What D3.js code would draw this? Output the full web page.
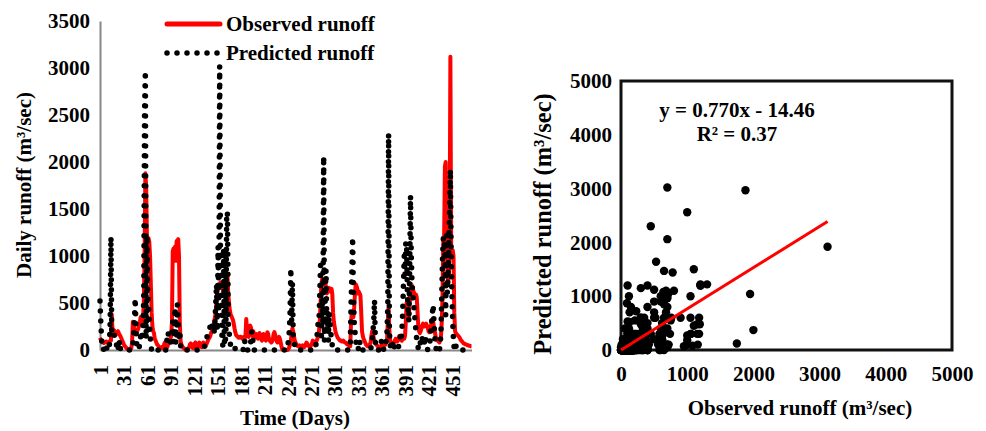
<!DOCTYPE html>
<html lang="en">
  <head>
    <meta charset="utf-8">
    <title>Observed vs predicted runoff</title>
    <script src="https://d3js.org/d3.v7.min.js"></script>
    <style>
      body { margin: 0; background: #fff; }
      text { font-family: "Liberation Serif", "Times New Roman", serif; font-weight: bold; fill: #000; }
    </style>
  </head>
  <body>
    <script>

    // Daily observed runoff (m3/sec), day 1 .. 476
    var observed = [
      130,110,90,80,80,75,80,85,90,80,
      80,85,90,95,100,380,220,200,210,190,
      180,170,190,200,180,160,150,130,110,90,
      70,50,40,30,20,10,5,5,5,10,
      20,80,300,250,220,210,200,190,210,230,
      260,300,350,330,300,330,500,1000,1880,1750,
      1200,1180,1190,1150,1000,700,400,250,200,180,
      120,100,80,60,50,40,30,20,20,30,
      20,30,60,80,60,40,30,60,80,100,
      120,150,300,1050,1080,1000,1100,950,1160,1150,
      1180,1000,300,100,60,40,30,20,10,5,
      5,5,10,20,30,60,70,60,30,20,
      30,70,80,70,40,30,60,80,70,40,
      30,50,80,70,50,40,60,80,100,120,
      130,150,180,200,220,250,300,350,400,500,
      600,680,700,700,720,700,680,650,640,620,
      600,620,650,780,600,500,420,380,360,340,
      320,280,230,190,160,150,140,130,130,140,
      140,130,120,130,140,120,150,330,200,150,
      140,200,260,240,180,150,200,160,130,150,
      170,140,120,160,180,150,120,100,130,170,
      150,120,100,130,190,170,120,100,90,80,
      90,120,170,190,160,120,90,80,110,140,
      120,80,40,10,0,0,0,0,0,0,
      0,10,30,60,90,180,230,200,150,100,
      80,60,50,40,40,50,40,30,40,50,
      40,30,40,60,80,70,50,40,30,40,
      50,70,100,90,60,50,80,100,120,150,
      200,300,500,700,750,740,700,720,760,650,
      600,620,650,660,640,620,650,600,400,300,
      250,200,170,150,130,120,110,100,100,90,
      90,100,90,80,80,70,60,60,50,40,
      40,300,400,400,350,450,600,700,680,650,
      600,620,600,580,400,200,150,120,100,80,
      60,50,40,40,50,60,80,150,200,180,
      120,100,80,60,50,40,40,30,30,40,
      50,60,80,60,50,60,80,100,300,450,
      200,100,80,70,60,70,80,100,120,100,
      90,100,120,150,140,110,100,120,130,120,
      150,300,500,520,400,350,600,530,700,680,
      650,620,600,580,590,560,400,250,200,180,
      200,230,260,280,270,250,270,280,260,240,
      200,190,200,250,300,330,300,250,200,150,
      120,100,100,90,80,100,150,300,600,1200,
      1200,1950,2000,1300,900,700,800,1100,3120,1050,
      1050,1060,1000,400,200,180,170,160,150,140,
      130,110,100,90,80,70,70,60,60,55,
      50,50,45,45,40,40
    ];

    // Daily predicted runoff (m3/sec), day 1 .. 476
    var predicted = [
      520,300,120,20,0,10,40,0,0,30,
      0,0,50,300,1200,180,150,160,170,120,
      100,60,0,40,0,100,20,0,0,0,
      0,0,0,0,0,0,0,0,0,0,
      0,0,50,150,300,550,200,60,20,0,
      20,80,150,200,100,250,600,2560,2970,120,
      1220,600,480,300,180,50,0,20,0,0,
      0,0,0,0,0,0,0,0,0,0,
      0,0,0,20,0,50,150,190,120,80,
      80,100,150,300,80,270,450,70,100,480,
      300,100,200,50,0,0,0,0,0,0,
      0,0,0,0,0,0,0,0,0,0,
      0,0,0,0,0,0,0,0,0,0,
      0,0,0,20,50,80,100,150,180,200,
      220,260,300,250,200,280,200,300,500,700,
      200,1100,400,3020,1060,960,100,50,1080,100,
      50,200,1470,1440,300,200,100,50,20,0,
      0,0,0,20,0,0,0,0,0,0,
      0,0,0,0,50,100,30,0,0,0,
      0,0,50,100,200,150,50,0,0,0,
      0,0,0,0,0,0,0,0,0,0,
      0,0,0,0,0,0,0,0,0,0,
      0,0,0,0,0,0,0,0,0,0,
      0,0,0,0,0,0,0,0,0,0,
      50,100,200,400,870,300,720,150,100,50,
      20,0,0,0,0,0,0,0,0,0,
      0,0,0,0,0,0,0,0,0,0,
      0,0,0,0,0,0,50,100,200,300,
      300,600,900,100,550,300,2060,100,600,850,
      200,400,100,400,300,200,100,50,0,0,
      0,0,0,0,0,0,0,0,0,0,
      0,0,0,0,0,0,0,0,0,0,
      50,500,800,1200,600,300,200,100,50,0,
      0,50,100,0,0,0,0,0,0,0,
      0,0,0,0,0,0,0,50,100,200,
      300,530,100,0,0,0,0,0,0,50,
      100,50,20,0,0,50,100,200,500,2300,
      200,50,30,0,50,100,50,0,0,0,
      0,0,50,100,150,100,200,400,700,1000,
      800,1150,1120,600,400,300,900,1640,1000,700,
      600,500,400,300,200,100,50,20,0,50,
      100,150,120,80,50,100,150,80,50,0,
      20,50,100,200,300,400,480,300,150,50,
      0,0,0,30,0,50,200,600,1000,1200,
      1200,1040,370,1220,600,800,1100,1500,1920,1000,
      600,300,100,0,0,50,0,0,0,0,
      0,0,0,0,0,0,0,0,0,0,
      0,0,0,0,0,0
    ];

    // Tick labels
    var dayTicks = [1, 31, 61, 91, 121, 151, 181, 211, 241, 271, 301, 331, 361, 391, 421, 451];
    var runoffTicks = [0, 500, 1000, 1500, 2000, 2500, 3000, 3500];
    var scatterTicks = [0, 1000, 2000, 3000, 4000, 5000];

    // Linear trendline of predicted vs observed
    var slope = 0.770;
    var intercept = -14.46;
    var equationText = "y = 0.770x - 14.46";
    var r2Text = "R² = 0.37";

    var plain = d3.format("d");

    var svg = d3.select("body")
                .append("svg")
                  .attr("width", 986)
                  .attr("height", 431);

    // ---------- Left panel: time series ----------
    var xDay = d3.scaleLinear()
                  .domain([1, observed.length])
                  .range([100, 471.5]);

    var yRun = d3.scaleLinear()
                  .domain([0, 3500])
                  .range([350, 21]);

    // y axis
    svg.append("g")
        .attr("transform", "translate(100,0)")
        .call(d3.axisLeft(yRun).tickValues(runoffTicks).tickFormat(plain)
                .tickSize(0).tickSizeOuter(0).tickPadding(10))
        .call(function(g) {
          g.select(".domain").attr("stroke", "#888").attr("stroke-width", 2);
          g.selectAll("text").style("font-size", "21px");
        });

    // x axis with rotated labels
    svg.append("g")
        .attr("transform", "translate(0,350)")
        .call(d3.axisBottom(xDay).tickValues(dayTicks).tickFormat(plain)
                .tickSize(0).tickSizeOuter(0))
        .call(function(g) {
          g.select(".domain").attr("stroke", "#888").attr("stroke-width", 2);
          g.selectAll("text")
            .attr("transform", "rotate(-90)")
            .attr("x", -15)
            .attr("y", 0)
            .attr("dy", "0.35em")
            .attr("text-anchor", "end")
            .style("font-size", "21px");
        });

    var line = function(values) {
      return d3.line()
                .x(function(d, i) { return xDay(i + 1); })
                .y(function(d) { return yRun(d); })(values);
    };

    // observed: red line
    svg.append("path")
        .attr("d", line(observed))
        .attr("fill", "none")
        .attr("stroke", "#ff0000")
        .attr("stroke-width", 4)
        .attr("stroke-linejoin", "round");

    // predicted: round-dot black line
    svg.append("path")
        .attr("d", line(predicted))
        .attr("fill", "none")
        .attr("stroke", "#000")
        .attr("stroke-width", 5.5)
        .attr("stroke-linecap", "round")
        .attr("stroke-dasharray", "0,10");

    // legend
    svg.append("line")
        .attr("x1", 167).attr("x2", 220)
        .attr("y1", 24).attr("y2", 24)
        .attr("stroke", "#ff0000")
        .attr("stroke-width", 5)
        .attr("stroke-linecap", "round");
    svg.append("line")
        .attr("x1", 167).attr("x2", 217.5)
        .attr("y1", 53).attr("y2", 53)
        .attr("stroke", "#000")
        .attr("stroke-width", 5.5)
        .attr("stroke-linecap", "round")
        .attr("stroke-dasharray", "0,10");
    svg.append("text")
        .attr("x", 226).attr("y", 24)
        .attr("dominant-baseline", "central")
        .style("font-size", "21px")
        .text("Observed runoff");
    svg.append("text")
        .attr("x", 226).attr("y", 53)
        .attr("dominant-baseline", "central")
        .style("font-size", "21px")
        .text("Predicted runoff");

    // axis titles
    svg.append("text")
        .attr("transform", "translate(24,185) rotate(-90)")
        .attr("text-anchor", "middle")
        .attr("dominant-baseline", "central")
        .style("font-size", "21px")
        .text("Daily runoff (m³/sec)");
    svg.append("text")
        .attr("x", 295).attr("y", 418)
        .attr("text-anchor", "middle")
        .attr("dominant-baseline", "central")
        .style("font-size", "21px")
        .text("Time (Days)");

    // ---------- Right panel: scatter ----------
    var xObs = d3.scaleLinear()
                  .domain([0, 5000])
                  .range([621, 952]);

    var yPred = d3.scaleLinear()
                  .domain([0, 5000])
                  .range([350, 81]);

    svg.append("g")
        .attr("transform", "translate(621,0)")
        .call(d3.axisLeft(yPred).tickValues(scatterTicks).tickFormat(plain)
                .tickSize(0).tickSizeOuter(0).tickPadding(9))
        .call(function(g) {
          g.select(".domain").remove();
          g.selectAll("text").style("font-size", "21px");
        });

    svg.append("g")
        .attr("transform", "translate(0,350)")
        .call(d3.axisBottom(xObs).tickValues(scatterTicks).tickFormat(plain)
                .tickSize(0).tickSizeOuter(0).tickPadding(16))
        .call(function(g) {
          g.select(".domain").remove();
          g.selectAll("text").style("font-size", "21px");
        });

    // plot frame
    svg.append("rect")
        .attr("x", xObs(0)).attr("y", yPred(5000))
        .attr("width", xObs(5000) - xObs(0))
        .attr("height", yPred(0) - yPred(5000))
        .attr("fill", "none")
        .attr("stroke", "#111")
        .attr("stroke-width", 3);

    // points
    var pairs = observed.map(function(d, i) { return {obs: d, pred: predicted[i]}; });
    svg.append("g")
        .selectAll("circle")
        .data(pairs)
        .enter()
        .append("circle")
          .attr("cx", function(d) { return xObs(d.obs); })
          .attr("cy", function(d) { return yPred(d.pred); })
          .attr("r", 4.2)
          .attr("fill", "#000");

    // trendline
    var maxObs = d3.max(observed);
    svg.append("line")
        .attr("x1", xObs(0)).attr("y1", yPred(Math.max(0, intercept)))
        .attr("x2", xObs(maxObs)).attr("y2", yPred(slope * maxObs + intercept))
        .attr("stroke", "#ff0000")
        .attr("stroke-width", 3);

    // equation
    svg.append("text")
        .attr("x", 737).attr("y", 110)
        .attr("text-anchor", "middle")
        .attr("dominant-baseline", "central")
        .style("font-size", "21px")
        .text(equationText);
    svg.append("text")
        .attr("x", 737).attr("y", 134)
        .attr("text-anchor", "middle")
        .attr("dominant-baseline", "central")
        .style("font-size", "21px")
        .text(r2Text);

    // axis titles
    svg.append("text")
        .attr("transform", "translate(542,224) rotate(-90)")
        .attr("text-anchor", "middle")
        .attr("dominant-baseline", "central")
        .style("font-size", "24.5px")
        .text("Predicted runoff (m³/sec)");
    svg.append("text")
        .attr("x", 800).attr("y", 408)
        .attr("text-anchor", "middle")
        .attr("dominant-baseline", "central")
        .style("font-size", "21px")
        .text("Observed runoff (m³/sec)");

    </script>
  </body>
</html>
